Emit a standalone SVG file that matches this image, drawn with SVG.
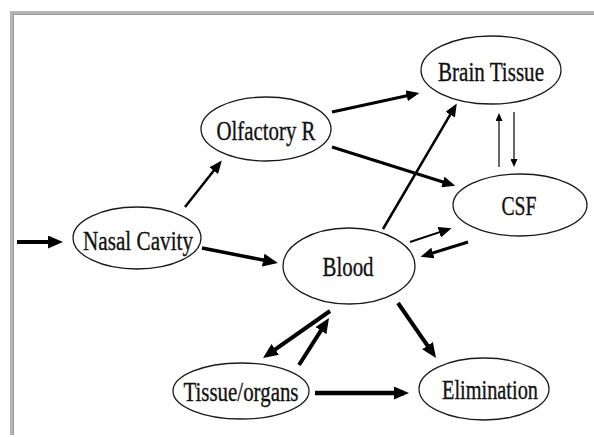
<svg xmlns="http://www.w3.org/2000/svg" width="594" height="437" viewBox="0 0 594 437">
<style>
.node ellipse{fill:#fff;stroke:#1a1a1a;stroke-width:1.3}
.node text{stroke:#111;stroke-width:0.35}
.c line{stroke:#000;fill:none}
</style>
<defs>
<marker id="ah" markerUnits="userSpaceOnUse" markerWidth="15" markerHeight="13" refX="10" refY="6.5" orient="auto" viewBox="0 0 15 13">
<path d="M0,0 L15,6.5 L0,13 z" fill="#000"/>
</marker>
<marker id="am" markerUnits="userSpaceOnUse" markerWidth="13" markerHeight="11" refX="8.5" refY="5.5" orient="auto" viewBox="0 0 13 11">
<path d="M0,0 L13,5.5 L0,11 z" fill="#000"/>
</marker>
<marker id="as" markerUnits="userSpaceOnUse" markerWidth="8" markerHeight="7" refX="5" refY="3.5" orient="auto" viewBox="0 0 8 7">
<path d="M0,0 L8,3.5 L0,7 z" fill="#000"/>
</marker>
</defs>
<rect x="0" y="0" width="594" height="437" fill="#fff"/>
<g id="frame">
<rect x="10" y="11" width="584" height="4" fill="#b3b3b3"/>
<rect x="10" y="11" width="4" height="424" fill="#b3b3b3"/>
<rect x="13" y="14" width="581" height="1" fill="#999"/>
<rect x="13" y="14" width="1" height="421" fill="#999"/>
</g>
<g id="connectors" class="c">
<line x1="17" y1="242" x2="58" y2="242" stroke-width="4" marker-end="url(#ah)"/>
<line x1="202" y1="248" x2="273" y2="262" stroke-width="3.5" marker-end="url(#ah)"/>
<line x1="185" y1="207" x2="219" y2="164" stroke-width="2.5" marker-end="url(#am)"/>
<line x1="332" y1="112" x2="415" y2="94" stroke-width="3" marker-end="url(#am)"/>
<line x1="332" y1="147" x2="451" y2="184.5" stroke-width="3" marker-end="url(#am)"/>
<line x1="383" y1="229" x2="454.5" y2="107.3" stroke-width="2.5" marker-end="url(#am)"/>
<line x1="410" y1="242" x2="447.3" y2="229.6" stroke-width="2" marker-end="url(#am)"/>
<line x1="468" y1="242" x2="424.8" y2="255.5" stroke-width="3" marker-end="url(#am)"/>
<line x1="499" y1="167" x2="499" y2="116" stroke-width="1.2" marker-end="url(#as)"/>
<line x1="514" y1="112" x2="514" y2="164" stroke-width="1.2" marker-end="url(#as)"/>
<line x1="330" y1="311" x2="267.1" y2="355.1" stroke-width="4" marker-end="url(#ah)"/>
<line x1="299" y1="365" x2="326.3" y2="322.2" stroke-width="4" marker-end="url(#ah)"/>
<line x1="398" y1="303" x2="433.2" y2="353.9" stroke-width="4" marker-end="url(#ah)"/>
<line x1="315" y1="393" x2="404" y2="393" stroke-width="4.5" marker-end="url(#ah)"/>
</g>
<g font-family="'Liberation Serif', 'Times New Roman', serif" font-size="27" fill="#111" text-anchor="middle">
<g id="brain" class="node"><ellipse cx="491" cy="70" rx="70" ry="34"/><text x="491" y="81" textLength="106" lengthAdjust="spacingAndGlyphs">Brain Tissue</text></g>
<g id="csf" class="node"><ellipse cx="520" cy="205" rx="67" ry="31"/><text x="519" y="215" textLength="35" lengthAdjust="spacingAndGlyphs">CSF</text></g>
<g id="olfactory" class="node"><ellipse cx="266" cy="129" rx="65" ry="32"/><text x="266" y="140" textLength="99" lengthAdjust="spacingAndGlyphs">Olfactory R</text></g>
<g id="nasal" class="node"><ellipse cx="137" cy="238" rx="64" ry="31"/><text x="138" y="250" textLength="110" lengthAdjust="spacingAndGlyphs">Nasal Cavity</text></g>
<g id="blood" class="node"><ellipse cx="349" cy="266" rx="66" ry="38"/><text x="348" y="276" textLength="51" lengthAdjust="spacingAndGlyphs">Blood</text></g>
<g id="tissue" class="node"><ellipse cx="241" cy="391" rx="68" ry="28"/><text x="241" y="401" textLength="115" lengthAdjust="spacingAndGlyphs">Tissue/organs</text></g>
<g id="elimination" class="node"><ellipse cx="484" cy="389" rx="65" ry="31"/><text x="490" y="399" textLength="96" lengthAdjust="spacingAndGlyphs">Elimination</text></g>
</g>
</svg>
